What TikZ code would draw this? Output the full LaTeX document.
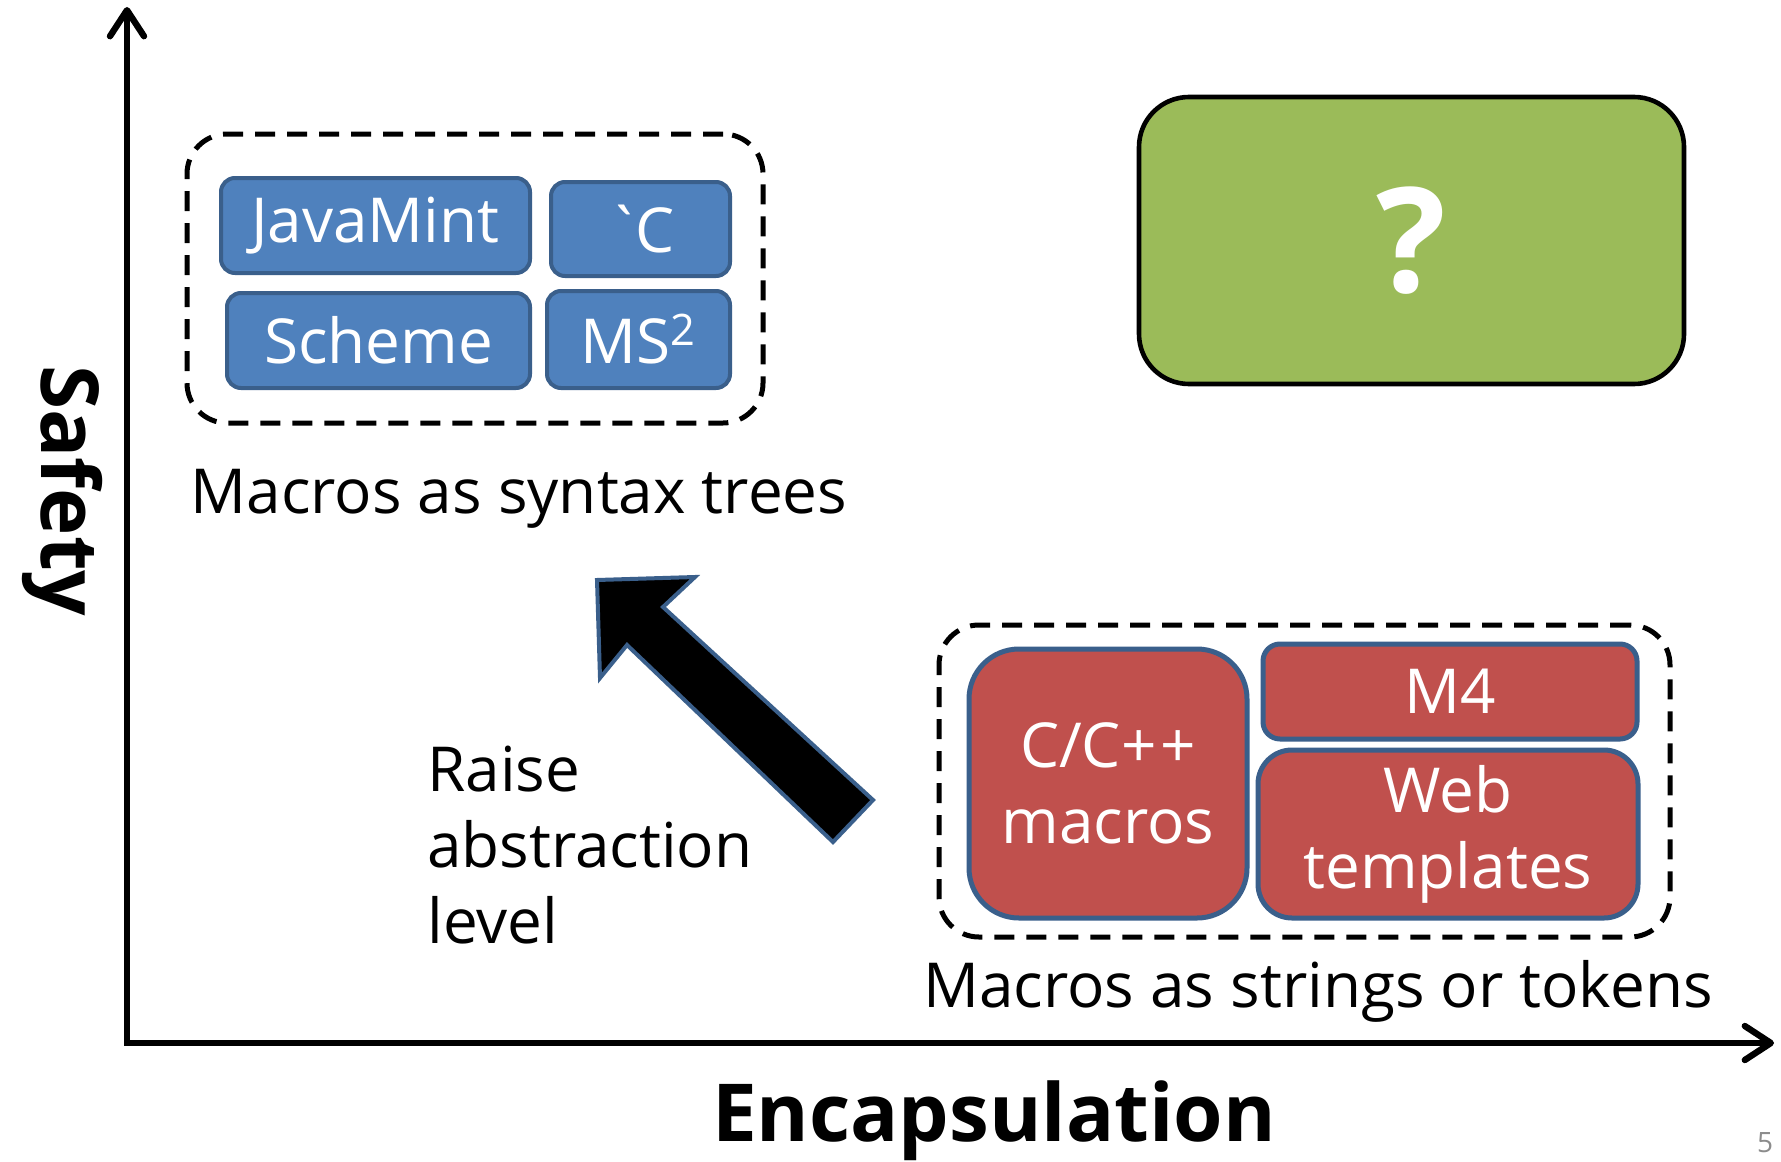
\documentclass[tikz,border=0pt]{standalone}
\usepackage{fontspec}
\setmainfont{Open Sans}
\usetikzlibrary{arrows.meta,positioning}

\definecolor{boxblue}{HTML}{4F81BD}
\definecolor{boxred}{HTML}{C0504D}
\definecolor{boxgreen}{HTML}{9BBB59}
\definecolor{edgeblue}{HTML}{3A5F8B}
\definecolor{pagegray}{HTML}{8C8C8C}
\newcommand{\labelfont}{\fontsize{31}{38}\selectfont}
\newcommand{\axisfont}{\bfseries\fontsize{40}{48}\selectfont}

\begin{document}
\begin{tikzpicture}[x=0.5pt,y=-0.5pt,
  >={Straight Barb[length=13pt,width=17pt,round]},
  axis/.style={line width=3.2pt,line join=miter},
  group/.style={draw,line width=2.5pt,dash pattern=on 10pt off 6pt,rounded corners=20pt},
  tree/.style={draw=edgeblue,line width=2pt,fill=boxblue,rounded corners=7pt,
               text=white,font=\labelfont,inner sep=0pt},
  token/.style={draw=edgeblue,line width=2.5pt,fill=boxred,text=white,
                font=\labelfont,align=center,inner sep=0pt},
  caption/.style={font=\labelfont,inner sep=0pt}]
\path[use as bounding box,fill=white] (0,0) rectangle (1781,1161);

% axes
\coordinate (origin) at (127,1043);
\coordinate (ytip) at (127,7);
\coordinate (xtip) at (1774,1043);
\draw[axis,<->] (ytip) -- (origin) -- (xtip);
\node[font=\axisfont,rotate=-90] (safety) at (62,491) {Safety};
\node[font=\axisfont,anchor=base] (encap) at (994,1141) {Encapsulation};

% macros as syntax trees
\node[group,minimum width=288pt,minimum height=144.5pt] (treegrp) at (475,278.5) {};
\node[tree,minimum width=154.5pt,minimum height=47.5pt] (javamint) at (375.5,225.5) {JavaMint};
\node[tree,minimum width=89.5pt,minimum height=47pt] (bqc) at (640.5,229) {\textasciigrave\kern-3pt C};
\node[tree,minimum width=151.5pt,minimum height=47.5pt] (scheme) at (378.5,340.5) {Scheme};
\node[tree,minimum width=91.5pt,minimum height=48.5pt] (mssq) at (638.5,339.5) {MS\textsuperscript{2}};
\node[caption,anchor=base] (treecap) at (519,513) {Macros as syntax trees};

% the open corner
\node[draw,line width=2.3pt,fill=boxgreen,rounded corners=25pt,minimum width=272.5pt,
      minimum height=143.5pt,text=white,font=\bfseries\fontsize{73}{80}\selectfont]
      (unknown) at (1411.5,240.5) {?};

% macros as strings or tokens
\node[group,minimum width=365.5pt,minimum height=156pt] (tokengrp) at (1304.5,781) {};
\node[token,rounded corners=25pt,minimum width=139pt,minimum height=134.5pt] (cpp) at (1108,783.5) {C/C+\kern2pt+\\macros};
\node[token,rounded corners=8.5pt,minimum width=187pt,minimum height=47.5pt] (mfour) at (1450,691.5) {M4};
\node[token,rounded corners=17pt,minimum width=190pt,minimum height=84pt] (web) at (1448,834) {Web\\templates};
\node[caption,anchor=base] (tokencap) at (1318,1007) {Macros as strings or tokens};

% block arrow
\draw[line width=2pt,draw=edgeblue,fill=black,line join=miter]
  (597,580) -- (695,577) -- (663,607) -- (873,800) -- (833,842) -- (627,645) -- (600,678) -- cycle;
\node[caption,align=left,anchor=base west] (raise) at (427,943) {Raise\\abstraction\\level};

\node[font=\fontsize{14}{16}\selectfont,text=pagegray] (pageno) at (1765,1143) {5};
\end{tikzpicture}
\end{document}
